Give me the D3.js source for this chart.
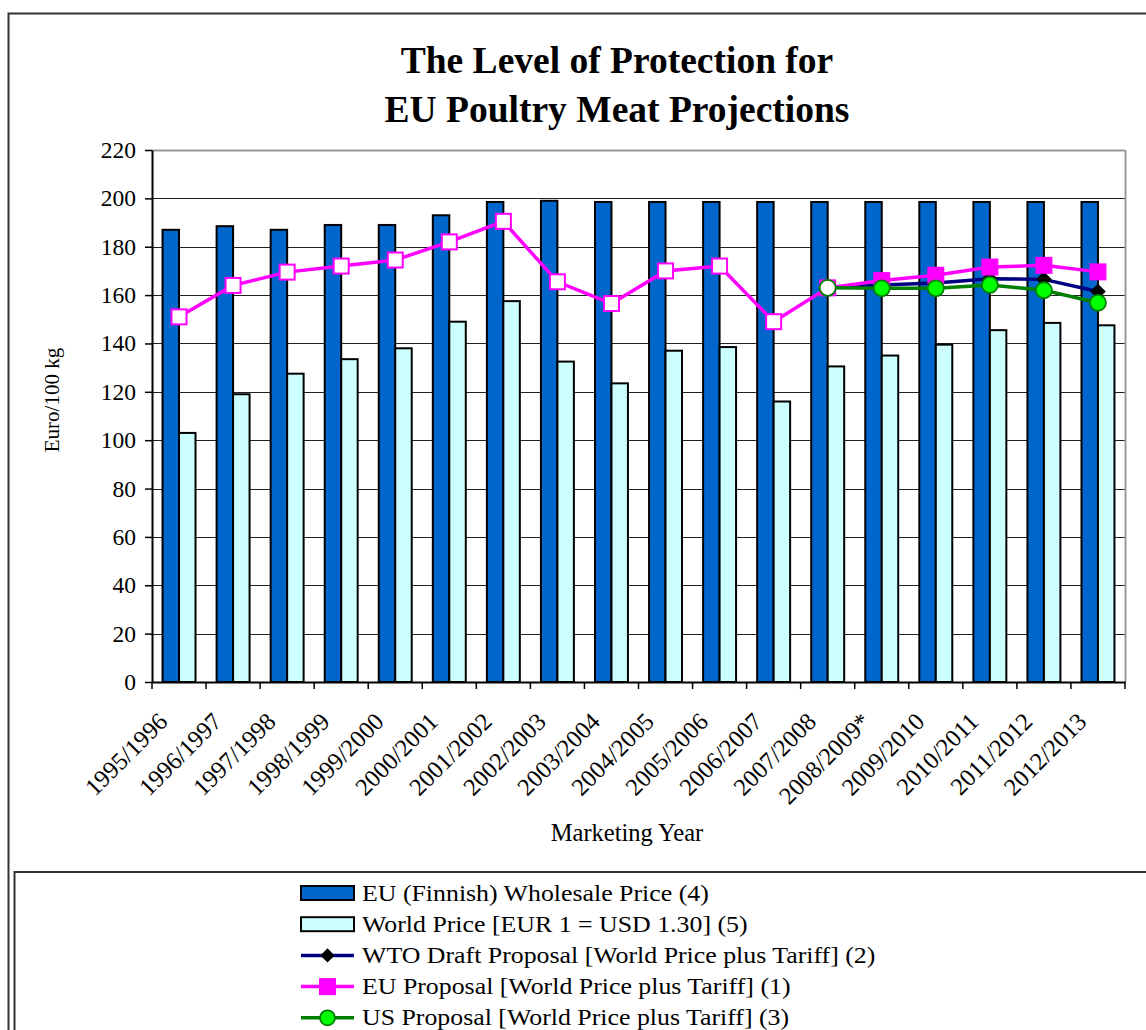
<!DOCTYPE html>
<html>
<head>
<meta charset="utf-8">
<script src="https://cdn.jsdelivr.net/npm/d3@7"></script>
<style>
  html, body { margin: 0; padding: 0; background: #fff; }
  svg { display: block; }
  text { font-family: "Liberation Serif", "Times New Roman", serif; fill: #000; }
</style>
</head>
<body>
<svg id="chart" width="1146" height="1030"></svg>
<script>
// ---------------- DATA ----------------
const categories = ["1995/1996","1996/1997","1997/1998","1998/1999","1999/2000","2000/2001",
  "2001/2002","2002/2003","2003/2004","2004/2005","2005/2006","2006/2007","2007/2008",
  "2008/2009*","2009/2010","2010/2011","2011/2012","2012/2013"];
const euWholesale = [187, 188.5, 187, 189, 189, 193, 198.5, 199, 198.5, 198.5, 198.5, 198.5, 198.5, 198.5, 198.5, 198.5, 198.5, 198.5];
const worldPrice  = [103, 119, 127.5, 133.5, 138, 149, 157.5, 132.5, 123.5, 137, 138.5, 116, 130.5, 135, 139.5, 145.5, 148.5, 147.5];
const wtoProposal = [null, null, null, null, null, null, null, null, null, null, null, null, 163, 164.2, 165, 166.8, 166.5, 161.5];
const euProposal  = [151, 164, 169.5, 172, 174.5, 182, 190.5, 165.5, 156.5, 170, 172, 149, 163, 166, 168.2, 171.6, 172.3, 169.6];
const usProposal  = [null, null, null, null, null, null, null, null, null, null, null, null, 163, 162.8, 162.8, 164.2, 162, 156.8];
const yTicks = [0, 20, 40, 60, 80, 100, 120, 140, 160, 180, 200, 220];
const titleLines = ["The Level of Protection for", "EU Poultry Meat Projections"];
const legendLabels = [
  "EU (Finnish) Wholesale Price (4)",
  "World Price [EUR 1 = USD 1.30] (5)",
  "WTO Draft Proposal [World Price plus Tariff] (2)",
  "EU Proposal [World Price plus Tariff] (1)",
  "US Proposal [World Price plus Tariff] (3)"
];
const projectionStartIndex = 13; // markers filled from "2008/2009*" on

// ---------------- LAYOUT ----------------
const svg = d3.select("#chart");
const plot = { left: 152, right: 1125, top: 150, bottom: 682 };
const C = {
  blue: "#0066CC", cyan: "#CCFFFF", magenta: "#FF00FF", navy: "#000080",
  green: "#008000", lime: "#00FF00"
};

// outer frame
svg.append("rect").attr("x", 8.5).attr("y", 13.5).attr("width", 1160).attr("height", 1040)
  .attr("fill", "#fff").attr("stroke", "#333").attr("stroke-width", 2);

const x = d3.scaleBand().domain(categories).range([plot.left, plot.right]).paddingInner(0).paddingOuter(0);
const xs = d3.scaleBand().domain(["eu", "world"]).range([0, x.bandwidth()]).paddingInner(0).paddingOuter(0.64);
const y = d3.scaleLinear().domain([0, 220]).range([plot.bottom, plot.top]);
const cx = d => x(d) + x.bandwidth() / 2;

// title
svg.append("g").selectAll("text").data(titleLines).join("text")
  .attr("x", 617).attr("y", (d, i) => 73 + i * 48.5)
  .attr("text-anchor", "middle").attr("font-weight", "bold").attr("font-size", 37.5)
  .text(d => d);

// gridlines
svg.append("g").selectAll("line").data(yTicks.filter(t => t > 0)).join("line")
  .attr("x1", plot.left).attr("x2", plot.right)
  .attr("y1", d => Math.round(y(d)) + 0.5).attr("y2", d => Math.round(y(d)) + 0.5)
  .attr("stroke", d => d === 220 ? "#999" : "#222").attr("stroke-width", d => d === 220 ? 2 : 1.2);
svg.append("line").attr("x1", plot.right + 0.5).attr("x2", plot.right + 0.5)
  .attr("y1", plot.top).attr("y2", plot.bottom).attr("stroke", "#999").attr("stroke-width", 2);

// bars
const barG = svg.append("g");
barG.selectAll("rect.eu").data(categories).join("rect").attr("class", "eu")
  .attr("x", d => x(d) + xs("eu")).attr("width", xs.bandwidth())
  .attr("y", (d, i) => y(euWholesale[i])).attr("height", (d, i) => y(0) - y(euWholesale[i]))
  .attr("fill", C.blue).attr("stroke", "#000").attr("stroke-width", 2);
barG.selectAll("rect.world").data(categories).join("rect").attr("class", "world")
  .attr("x", d => x(d) + xs("world")).attr("width", xs.bandwidth())
  .attr("y", (d, i) => y(worldPrice[i])).attr("height", (d, i) => y(0) - y(worldPrice[i]))
  .attr("fill", C.cyan).attr("stroke", "#000").attr("stroke-width", 2);

// axes
const yAxis = d3.axisLeft(y).tickValues(yTicks).tickSize(7).tickPadding(9).tickSizeOuter(0);
const yg = svg.append("g").attr("transform", `translate(${plot.left},0)`).call(yAxis);
yg.select(".domain").attr("stroke", "#000").attr("stroke-width", 2);
yg.selectAll(".tick line").attr("stroke", "#000").attr("stroke-width", 1.5);
yg.selectAll(".tick text").attr("font-size", 23.5).attr("font-family", "Liberation Serif, serif").attr("fill", "#000");

const xAxis = d3.axisBottom(x).tickSize(0).tickFormat("");
const xg = svg.append("g").attr("transform", `translate(0,${plot.bottom})`).call(xAxis);
xg.select(".domain").attr("stroke", "#000").attr("stroke-width", 2);
svg.append("g").selectAll("line").data(categories.concat(["__end"])).join("line")
  .attr("x1", (d, i) => plot.left + i * x.step()).attr("x2", (d, i) => plot.left + i * x.step())
  .attr("y1", plot.bottom).attr("y2", plot.bottom + 7).attr("stroke", "#000").attr("stroke-width", 1.5);
svg.append("g").selectAll("text").data(categories).join("text")
  .attr("transform", d => `translate(${cx(d) - 10},${plot.bottom + 41}) rotate(-45)`)
  .attr("text-anchor", "end").attr("font-size", 24.5).text(d => d);

// axis titles
svg.append("text").attr("transform", `translate(59,400) rotate(-90)`)
  .attr("text-anchor", "middle").attr("font-size", 21).text("Euro/100 kg");
svg.append("text").attr("x", 627).attr("y", 841).attr("text-anchor", "middle")
  .attr("font-size", 24.5).text("Marketing Year");

// lines
const line = d3.line().defined(d => d.v != null).x(d => cx(d.c)).y(d => y(d.v));
const toPts = arr => categories.map((c, i) => ({ c, v: arr[i], i }));
const diamond = d3.symbol(d3.symbolSquare, 100);

const wto = toPts(wtoProposal);
svg.append("path").attr("d", line(wto)).attr("fill", "none").attr("stroke", C.navy).attr("stroke-width", 3.5);
svg.append("g").selectAll("path").data(wto.filter(d => d.v != null)).join("path")
  .attr("d", diamond).attr("transform", d => `translate(${cx(d.c)},${y(d.v)}) rotate(45)`)
  .attr("fill", "#000").attr("stroke", "#000").attr("stroke-width", 1);

const eu = toPts(euProposal);
svg.append("path").attr("d", line(eu)).attr("fill", "none").attr("stroke", C.magenta).attr("stroke-width", 3.5);
svg.append("g").selectAll("rect").data(eu).join("rect")
  .attr("x", d => cx(d.c) - 7.5).attr("y", d => y(d.v) - 7.5).attr("width", 15).attr("height", 15)
  .attr("fill", d => d.i >= projectionStartIndex ? C.magenta : "#fff")
  .attr("stroke", C.magenta).attr("stroke-width", 2);

const us = toPts(usProposal);
svg.append("path").attr("d", line(us)).attr("fill", "none").attr("stroke", C.green).attr("stroke-width", 3.5);
svg.append("g").selectAll("circle").data(us.filter(d => d.v != null)).join("circle")
  .attr("cx", d => cx(d.c)).attr("cy", d => y(d.v)).attr("r", 8)
  .attr("fill", d => d.i >= projectionStartIndex ? C.lime : "#fff")
  .attr("stroke", C.green).attr("stroke-width", 1.8);

// legend
svg.append("rect").attr("x", 14.5).attr("y", 872).attr("width", 1160).attr("height", 200)
  .attr("fill", "#fff").attr("stroke", "#333").attr("stroke-width", 2);
const lg = svg.append("g");
const rowY = i => 893 + i * 31.2;
const sw = { x1: 301, x2: 354 };
[C.blue, C.cyan].forEach((c, i) => {
  lg.append("rect").attr("x", sw.x1).attr("y", rowY(i) - 7).attr("width", sw.x2 - sw.x1).attr("height", 14)
    .attr("fill", c).attr("stroke", "#000").attr("stroke-width", 2);
});
const mid = (sw.x1 + sw.x2) / 2;
lg.append("line").attr("x1", sw.x1).attr("x2", sw.x2).attr("y1", rowY(2)).attr("y2", rowY(2)).attr("stroke", C.navy).attr("stroke-width", 3.5);
lg.append("path").attr("d", diamond).attr("transform", `translate(${mid},${rowY(2)}) rotate(45)`).attr("fill", "#000");
lg.append("line").attr("x1", sw.x1).attr("x2", sw.x2).attr("y1", rowY(3)).attr("y2", rowY(3)).attr("stroke", C.magenta).attr("stroke-width", 3.5);
lg.append("rect").attr("x", mid - 7.5).attr("y", rowY(3) - 7.5).attr("width", 15).attr("height", 15).attr("fill", C.magenta).attr("stroke", C.magenta).attr("stroke-width", 2);
lg.append("line").attr("x1", sw.x1).attr("x2", sw.x2).attr("y1", rowY(4)).attr("y2", rowY(4)).attr("stroke", C.green).attr("stroke-width", 3.5);
lg.append("circle").attr("cx", mid).attr("cy", rowY(4)).attr("r", 7.5).attr("fill", C.lime).attr("stroke", C.green).attr("stroke-width", 1.8);
lg.selectAll("text").data(legendLabels).join("text")
  .attr("transform", (d, i) => `translate(362,${rowY(i) + 7.5}) scale(1.1,1)`)
  .attr("font-size", 23.5).text(d => d);
</script>
</body>
</html>
